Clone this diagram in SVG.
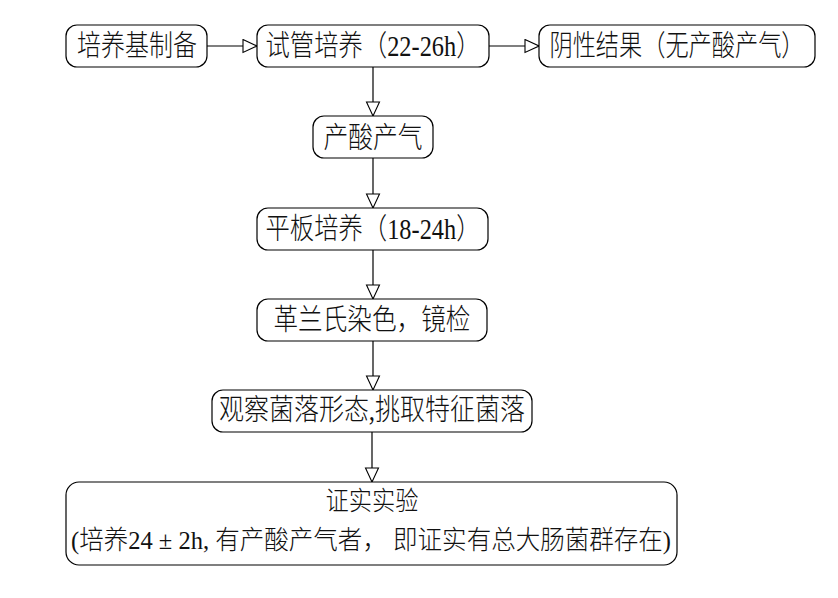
<svg xmlns="http://www.w3.org/2000/svg" width="838" height="598" viewBox="0 0 838 598">
<style>
.box{fill:#fff;stroke:#000;stroke-width:1.2}
.t{font-family:"Liberation Serif","Noto Sans CJK SC",serif;font-size:29px;font-weight:300;fill:#111;text-anchor:middle}
.s{font-size:26px}
.c{fill:none;stroke:#000;stroke-width:1.2}
</style>
<defs>
<marker id="ah" markerUnits="userSpaceOnUse" markerWidth="16" markerHeight="16" refX="15" refY="7.5" orient="auto">
<path d="M1,1 L15,7.5 L1,14 Z" fill="#fff" stroke="#000" stroke-width="1.1"/>
</marker>
</defs>
<rect width="838" height="598" fill="#fff"/>
<g id="connectors">
<path class="c" d="M207,46 H257" marker-end="url(#ah)"/>
<path class="c" d="M489,46 H539" marker-end="url(#ah)"/>
<path class="c" d="M373,67 V116" marker-end="url(#ah)"/>
<path class="c" d="M373,158 V208" marker-end="url(#ah)"/>
<path class="c" d="M373,250 V299" marker-end="url(#ah)"/>
<path class="c" d="M373,341 V390" marker-end="url(#ah)"/>
<path class="c" d="M372,432 V482" marker-end="url(#ah)"/>
</g>
<g id="n1">
<rect class="box" x="66" y="25" width="141" height="42" rx="11"/>
<text class="t" x="137" y="56" textLength="120" lengthAdjust="spacingAndGlyphs">培养基制备</text>
</g>
<g id="n2">
<rect class="box" x="257" y="25" width="232" height="42" rx="11"/>
<text class="t" x="373" y="56" textLength="215" lengthAdjust="spacingAndGlyphs">试管培养（22-26h）</text>
</g>
<g id="n3">
<rect class="box" x="539" y="25" width="276" height="42" rx="11"/>
<text class="t" transform="translate(677,56) scale(0.8,1)" x="0" y="0">阴性结果（无产酸产气）</text>
</g>
<g id="n4">
<rect class="box" x="313" y="116" width="120" height="42" rx="11"/>
<text class="t" x="373" y="148" textLength="99" lengthAdjust="spacingAndGlyphs">产酸产气</text>
</g>
<g id="n5">
<rect class="box" x="257" y="208" width="231" height="42" rx="11"/>
<text class="t" x="373" y="239" textLength="215" lengthAdjust="spacingAndGlyphs">平板培养（18-24h）</text>
</g>
<g id="n6">
<rect class="box" x="257" y="299" width="230" height="42" rx="11"/>
<text class="t" x="372" y="330" textLength="197" lengthAdjust="spacingAndGlyphs">革兰氏染色，镜检</text>
</g>
<g id="n7">
<rect class="box" x="212" y="390" width="320" height="42" rx="11"/>
<text class="t" x="372" y="420" textLength="306" lengthAdjust="spacingAndGlyphs">观察菌落形态,挑取特征菌落</text>
</g>
<g id="n8">
<rect class="box" x="66" y="482" width="611" height="83" rx="13"/>
<text class="t s" x="372" y="510" textLength="93" lengthAdjust="spacingAndGlyphs">证实实验</text>
<text class="t s" x="371" y="549" textLength="600" lengthAdjust="spacingAndGlyphs">(培养24 ± 2h, 有产酸产气者， 即证实有总大肠菌群存在)</text>
</g>
</svg>
